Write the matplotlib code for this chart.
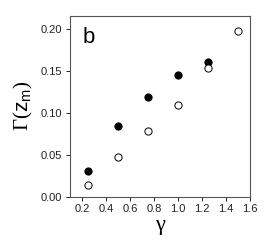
import matplotlib
matplotlib.use("Agg")
import matplotlib.pyplot as plt

# data
gamma_filled = [0.25, 0.5, 0.75, 1.0, 1.25]
gamma_filled_val = [0.031, 0.084, 0.119, 0.145, 0.161]
gamma_open = [0.25, 0.5, 0.75, 1.0, 1.25, 1.5]
gamma_open_val = [0.014, 0.048, 0.078, 0.110, 0.154, 0.198]
x_ticks = [0.2, 0.4, 0.6, 0.8, 1.0, 1.2, 1.4, 1.6]
y_ticks = [0.00, 0.05, 0.10, 0.15, 0.20]

plt.rcParams["font.family"] = ["Liberation Sans", "DejaVu Sans"]
plt.rcParams["mathtext.fontset"] = "custom"
plt.rcParams["mathtext.rm"] = "Liberation Serif"
plt.rcParams["mathtext.it"] = "Liberation Serif:italic"
plt.rcParams["mathtext.sf"] = "Liberation Sans"

fig = plt.figure(figsize=(2.67, 2.45), dpi=100)
ax = fig.add_axes([0.262, 0.197, 0.674, 0.739])

ax.plot(gamma_filled, gamma_filled_val, "o", color="black", ms=5.2, mec="black", mew=0.7)
ax.plot(gamma_open, gamma_open_val, "o", mfc="white", mec="black", ms=5.2, mew=0.7)

ax.set_xlim(0.1, 1.6)
ax.set_ylim(0.0, 0.216)
ax.set_xticks(x_ticks)
ax.set_xticklabels([f"{v:.1f}" for v in x_ticks])
ax.set_yticks(y_ticks)
ax.set_yticklabels([f"{v:.2f}" for v in y_ticks])
ax.tick_params(direction="out", length=3, width=0.7, labelsize=8, pad=2.5, colors="#222222")
for s in ax.spines.values():
    s.set_linewidth(0.8)
    s.set_color("#555555")

ax.set_xlabel("γ", fontsize=16, family="Liberation Serif", labelpad=1)
ax.set_ylabel(r"$\mathrm{\Gamma(}\mathsf{z_m}\mathrm{)}$", fontsize=15, labelpad=4)
ax.text(0.07, 0.94, "b", transform=ax.transAxes, fontsize=16, va="top", ha="left")

fig.savefig("out.png", dpi=100)
